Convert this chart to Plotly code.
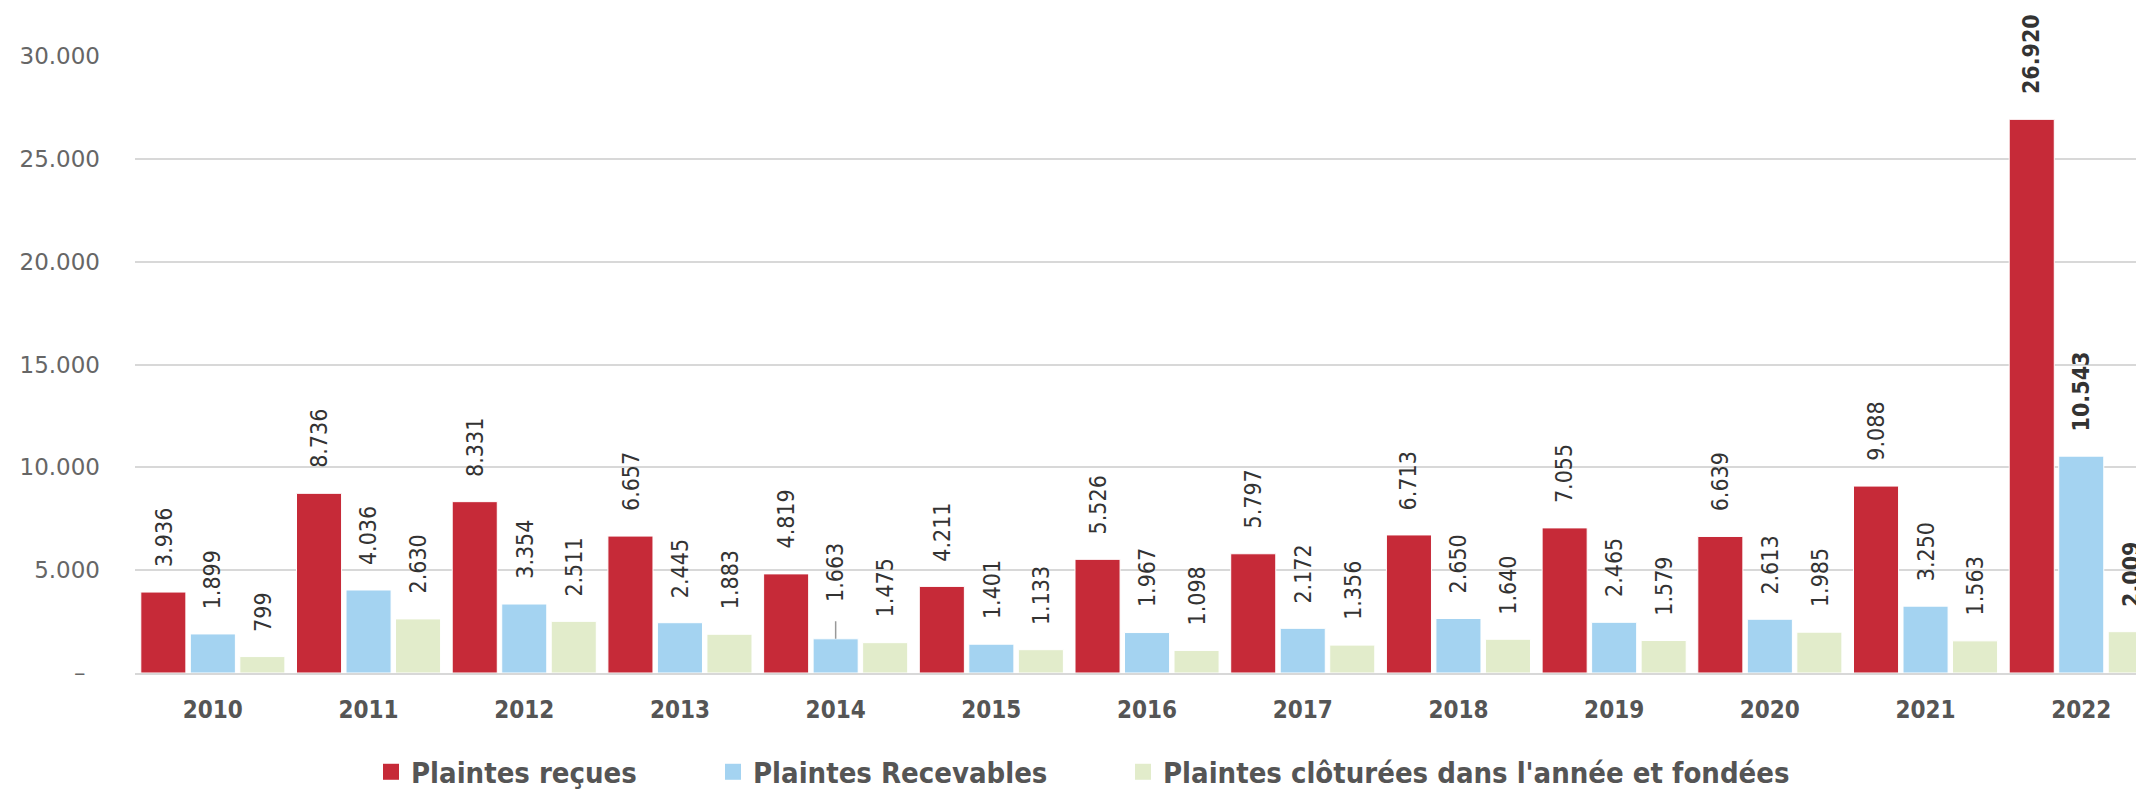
import plotly.graph_objects as go

years = ["2010", "2011", "2012", "2013", "2014", "2015", "2016",
         "2017", "2018", "2019", "2020", "2021", "2022"]
plaintes_recues = [3936, 8736, 8331, 6657, 4819, 4211, 5526, 5797, 6713, 7055, 6639, 9088, 26920]
plaintes_recevables = [1899, 4036, 3354, 2445, 1663, 1401, 1967, 2172, 2650, 2465, 2613, 3250, 10543]
plaintes_cloturees = [799, 2630, 2511, 1883, 1475, 1133, 1098, 1356, 1640, 1579, 1985, 1563, 2009]

series_names = ["Plaintes reçues", "Plaintes Recevables",
                "Plaintes clôturées dans l'année et fondées"]
series_values = [plaintes_recues, plaintes_recevables, plaintes_cloturees]
colors = ["#C62A38", "#A4D3F1", "#E2ECCB"]
highlighted_years = {"2022"}

ytick_vals = [0, 5000, 10000, 15000, 20000, 25000, 30000]


def fmt(v):
    return f"{v:,}".replace(",", ".")


ytick_text = ["–\u00a0\u00a0"] + [fmt(v) for v in ytick_vals[1:]]

# the page body has an 8px default margin: size the figure so it ends at the window edge
PAGE_OFF = 8
W, H = 2144 - PAGE_OFF, 790 - PAGE_OFF
ML, MR, MT, MB = 135 - PAGE_OFF, 0, 56 - PAGE_OFF, 117
plot_w = W - ML - MR
cat_px = 155.7
x_hi = -0.5 + plot_w / cat_px
bargap = 0.046
bargroupgap = 0.09
slot_px = cat_px * (1 - bargap) / 3

LABEL_FONT = "DejaVu Sans Condensed, Liberation Sans Narrow, DejaVu Sans"

fig = go.Figure()
for i, (name, vals, col) in enumerate(zip(series_names, series_values, colors)):
    fig.add_trace(go.Bar(
        x=years, y=vals, name=name, marker_color=col,
        marker_line=dict(color="white", width=1),
        showlegend=False, legendgroup=name, hoverinfo="x+y",
    ))
    legend_id = "legend" if i == 0 else f"legend{i + 1}"
    fig.add_trace(go.Scatter(
        x=[None], y=[None], mode="markers", name=name,
        marker=dict(symbol="square", size=22, color=col),
        legendgroup=name, showlegend=True, legend=legend_id,
    ))

annotations = []
extra_shift = {(1, "2014"): 12}
for i, vals in enumerate(series_values):
    for k, (yr, v) in enumerate(zip(years, vals)):
        annotations.append(dict(
            x=k, y=v, xref="x", yref="y", text=fmt(v), showarrow=False,
            textangle=-90, xanchor="center", yanchor="bottom",
            xshift=(i - 1) * slot_px, yshift=23 + extra_shift.get((i, yr), 0),
            font=dict(family=LABEL_FONT, size=23, color="#333333",
                      weight="bold" if yr in highlighted_years else "normal"),
        ))
# connector line for the shifted label (2014, Plaintes Recevables)
k14 = years.index("2014")
annotations.append(dict(
    x=k14, y=plaintes_recevables[k14], xref="x", yref="y",
    text="", showarrow=True, arrowhead=0, arrowwidth=1.5, arrowcolor="#999999",
    ax=0, ay=-19,
))

legend_left_px = [371, 713, 1123]
legend_common = dict(
    orientation="h", yanchor="top", xanchor="left", y=-0.119,
    font=dict(family=LABEL_FONT, size=29, color="#555555", weight="bold"),
    bgcolor="rgba(0,0,0,0)", borderwidth=0, itemclick=False,
)

layout_legends = {}
for i, px in enumerate(legend_left_px):
    key = "legend" if i == 0 else f"legend{i + 1}"
    layout_legends[key] = dict(legend_common, x=(px - PAGE_OFF - ML) / plot_w)

fig.update_layout(
    width=W, height=H,
    margin=dict(l=ML, r=MR, t=MT, b=MB, autoexpand=False),
    paper_bgcolor="white", plot_bgcolor="white",
    barmode="group", bargap=bargap, bargroupgap=bargroupgap,
    annotations=annotations,
    xaxis=dict(
        type="category", range=[-0.5, x_hi], showgrid=False,
        showline=True, linecolor="#d8d8d8", linewidth=2, ticks="",
        tickfont=dict(family=LABEL_FONT, size=24, color="#555555", weight="bold"),
        ticklabelstandoff=14, fixedrange=True,
    ),
    yaxis=dict(
        range=[0, 30000], tickvals=ytick_vals, ticktext=ytick_text,
        showgrid=True, gridcolor="#d8d8d8", gridwidth=1.5, zeroline=False,
        ticks="", tickfont=dict(family="DejaVu Sans", size=23, color="#666666"),
        ticklabelstandoff=34, fixedrange=True,
    ),
    showlegend=True,
    **layout_legends,
)

fig.write_html("out.html")
